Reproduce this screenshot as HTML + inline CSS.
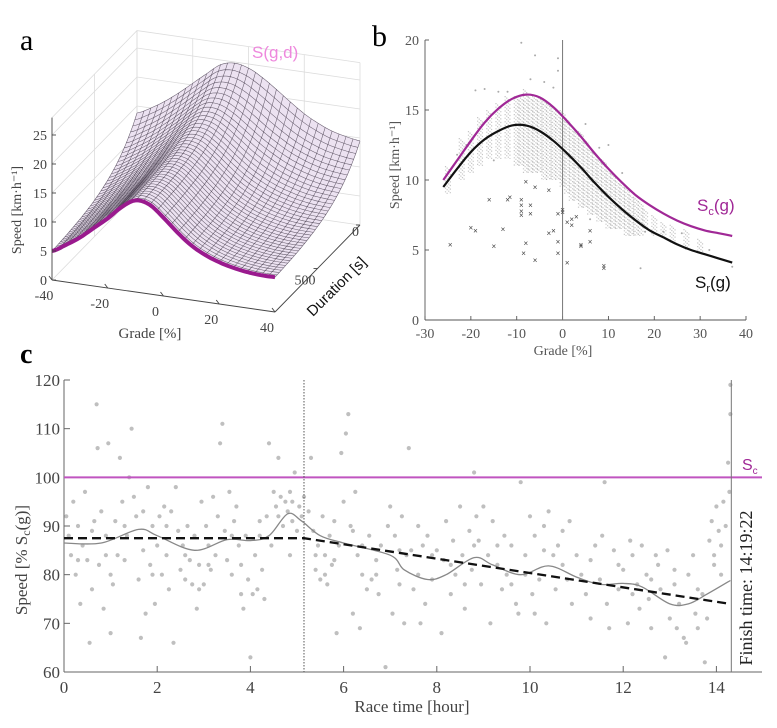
<!DOCTYPE html>
<html><head><meta charset="utf-8">
<style>
html,body{margin:0;padding:0;background:#fff;}
svg{display:block;font-family:"Liberation Serif",serif;}
.sans{font-family:"Liberation Sans",sans-serif;}
</style></head>
<body>
<svg id="fig" width="777" height="728" viewBox="0 0 777 728">
  <g id="pa"></g>
  <g id="pb"></g>
  <g id="pc"></g>
  <text x="20" y="50" font-size="30">a</text>
  <text x="372" y="46" font-size="30">b</text>
  <text x="20" y="363" font-size="28" font-weight="bold">c</text>
</svg>
<script>
// ---------- Panel A data ----------
const aGrades = [-40,-35,-30,-25,-20,-15,-10,-5,0,5,10,15,20,25,30,35,40];
const aFrontSpeed = [5,6.4,8,10,12,14.3,15.8,15.4,13.5,11.3,9.4,8.1,7.2,6.6,6.2,6.0,6.0];
const aBackSpeed = [13.8,15,16.5,18.3,20.3,22.3,24.2,24.8,24.3,23,21.3,19.5,17.8,16.5,15.5,14.9,14.5];
const aSpeedTicks = [0,5,10,15,20,25];
const aGradeTicks = [-40,-20,0,20,40];
const aDurTicks = [0,500];
// ---------- Panel B data ----------
const bScG = [-26,-23,-20,-17,-14,-11,-8,-5,-2,1,4,7,10,13,16,19,22,25,28,31,34,37];
const bScV = [10,11.4,12.8,14.1,15.1,15.8,16.1,15.9,15.2,14.2,13.1,11.9,10.8,9.8,8.9,8.2,7.6,7.1,6.7,6.4,6.2,6.0];
const bSrG = [-26,-23,-20,-17,-14,-11,-8,-5,-2,1,4,7,10,13,16,19,22,25,28,31,34,37];
const bSrV = [9.5,10.8,12,12.9,13.5,13.9,13.9,13.5,12.8,11.9,10.9,9.8,8.8,7.9,7.1,6.4,5.9,5.4,5.0,4.7,4.4,4.1];
const bColG = [-25,-22,-20,-18,-16,-14,-12,-10,-9,-8,-7,-6,-5,-4,-3,-2,-1,0,1,2,3,4,5,6,7,8,9,10,11,12,13,14,15,16,17,18,20,22,24,27,30];
const bColLo = [9,10,10.5,11,11.5,11.5,11.5,11,11,10.5,10.5,10.5,10.5,10,10,10,10,9.5,9,8.5,8.5,8,8,7.5,7.5,7,7,6.5,6.5,6.5,6.5,6,6,6,6,6.5,6,6,5.5,5,4.8];
const bColHi = [11,13,13.5,14.5,15,15.5,16,16,16,16.5,16,16,16,15.8,15.5,15.3,15,15,14.5,14,13.5,13.5,13,12.5,12,11.5,11.5,11,10.5,10,10,9.5,9,8.8,8.5,8,7.5,7,6.8,6.5,5.8];
const bDotG = [-9,-6,-1,-1,-7,-19,-17,-14,5,10,18,26,32,37,17,22,-12,-15,-4,3,8,13,-21,-23,-2,6];
const bDotV = [19.8,18.9,18.7,17.8,17.2,16.4,16.5,16.3,14,12.5,6.3,6.2,5,3.8,3.7,6.3,16.3,11.4,17,13.5,12.3,10.5,12.5,11.8,16.6,7.2];
const bXG = [-24.5,-20,-19,-16,-15,-13,-12,-11.5,-9,-9,-9,-9,-8.5,-8,-8,-7,-7,-6,-6,-3,-3,-2,-1,-1,-1,0,0,1,1,2,2,3,4,4,6,6,9,9];
const bXV = [5.4,6.6,6.4,8.6,5.3,6.5,8.6,8.8,8.6,8.2,7.8,7.5,4.8,5.5,9.9,8.2,7.6,9.5,4.3,9.3,6.2,6.4,7.6,5.6,4.8,7.7,7.9,4.1,7,6.8,7.2,7.4,5.4,5.3,6.4,5.6,3.9,3.7];
const bXTicks = [-30,-20,-10,0,10,20,30,40];
const bYTicks = [0,5,10,15,20];
// ---------- Panel C data ----------
const cSmoothT = [0,0.8,1.6,2.0,2.8,3.5,4.0,4.4,4.8,5.1,5.5,6.0,7.0,7.3,7.8,8.2,8.8,9.2,9.8,10.4,11.0,11.5,12.0,12.4,13.0,13.4,13.8,14.3];
const cSmoothV = [86.5,86.5,89.3,88,85,87.2,87,88,92.5,91,88,86.5,84,81,79,80,83.5,82,80,81.8,79.5,78,78.2,77.5,74,74,76,78.8];
const cTrendT = [0,5.15,14.3];
const cTrendV = [87.5,87.5,74];
const cPts = [[0.05,92],[0.1,88],[0.15,84],[0.2,95],[0.25,80],[0.3,90],[0.35,74],[0.4,86],[0.45,97],[0.5,83],[0.55,66],[0.6,77],[0.65,91],[0.7,115],[0.72,106],[0.75,82],[0.8,93],[0.85,73],[0.9,88],[0.95,107],[1.0,68],[1.0,80],
[1.05,78],[1.1,91],[1.15,84],[1.2,104],[1.25,95],[1.3,83],[1.35,88],[1.4,100],[1.45,110],[1.5,96],[1.55,92],[1.6,79],[1.65,67],[1.7,85],[1.75,72],[1.8,98],[1.85,82],[1.9,90],[1.95,74],[2.0,86],
[2.05,92],[2.1,80],[2.15,94],[2.2,84],[2.25,77],[2.3,93],[2.35,66],[2.4,98],[2.45,89],[2.5,81],[2.55,86],[2.6,79],[2.65,90],[2.7,83],[2.75,78],[2.8,88],[2.85,73],[2.9,82],[2.95,95],[3.0,78],
[3.05,90],[3.1,86],[3.15,81],[3.2,96],[3.25,84],[3.3,92],[3.35,107],[3.4,111],[3.45,89],[3.5,83],[3.55,97],[3.6,80],[3.65,91],[3.7,94],[3.75,86],[3.8,76],[3.85,73],[3.9,88],[3.95,79],[4.0,63],
[4.05,76],[4.1,84],[4.15,77],[4.2,88],[4.25,81],[4.3,75],[4.35,92],[4.4,107],[4.45,86],[4.5,97],[4.55,94],[4.6,104],[4.65,96],[4.7,90],[4.75,95],[4.8,93],[4.85,97],[4.9,91],[4.95,101],[5.0,89],[5.05,94],[5.1,92],[5.15,96],[4.85,84],
[5.25,93],[5.3,104],[5.35,89],[5.4,81],[5.45,86],[5.5,79],[5.55,92],[5.6,84],[5.65,78],[5.7,88],[5.75,82],[5.8,91],[5.85,68],[5.9,86],[5.95,105],[6.0,95],[6.05,109],[6.1,113],[6.15,90],[6.2,72],[6.25,97],[6.3,84],[6.35,69],[6.4,80],[6.5,77],
[6.55,88],[6.6,79],[6.7,83],[6.75,76],[6.8,86],[6.9,61],[6.95,90],[7.0,94],[7.05,72],[7.1,88],[7.15,81],[7.2,78],[7.25,92],[7.3,70],[7.35,84],[7.4,106],[7.45,85],[7.5,77],[7.6,80],[7.65,70],[7.7,86],[7.75,74],[7.8,88],[7.9,79],
[8.0,85],[8.1,68],[8.15,83],[8.2,91],[8.3,76],[8.35,87],[8.4,80],[8.5,94],[8.55,84],[8.6,73],[8.7,89],[8.75,81],[8.8,101],[8.85,92],[8.9,87],[8.95,78],[9.0,94],[9.1,84],[9.15,70],[9.2,91],[9.3,82],[9.4,77],[9.45,88],
[9.5,80],[9.6,86],[9.7,74],[9.75,72],[9.8,99],[9.9,84],[10.0,92],[10.05,76],[10.1,88],[10.2,79],[10.3,90],[10.35,70],[10.4,93],[10.5,84],[10.55,77],[10.6,86],[10.7,89],[10.8,79],[10.85,91],[10.9,74],[11.0,84],
[11.1,80],[11.2,76],[11.3,71],[11.4,86],[11.5,79],[11.55,88],[11.6,99],[11.65,74],[11.7,69],[11.8,85],[11.9,77],[12.0,81],[12.1,70],[12.15,87],[12.2,84],[12.3,78],[12.35,73],[12.4,86],[12.5,80],
[12.55,75],[12.6,69],[12.7,84],[12.75,82],[12.8,77],[12.9,63],[12.95,85],[13.0,71],[13.1,78],[13.15,69],[13.2,74],[13.3,67],[13.35,66],[13.4,80],[13.5,84],[13.55,72],[13.6,69],[13.7,76],[13.75,62],[13.8,71],[13.85,87],[13.9,91],[13.95,82],[14.0,94],[14.05,89],[14.1,86],[14.15,95],[14.2,90],[14.25,103],[14.3,113],[14.3,119],[14.28,97],[13.95,84],
[0.3,83],[0.6,89],[1.3,90],[1.7,93],[2.2,90],[2.6,84],[3.1,82],[3.6,88],[4.2,91],[4.6,92],[4.9,95],[5.4,84],[5.8,83],[6.2,89],[6.7,80],[7.2,85],[7.6,90],[8.3,82],[8.8,86],[9.3,86],[9.9,80],[10.3,85],[10.7,82],[11.3,83],[11.9,82],[12.6,79],[13.1,81],[13.6,77],[14.1,80],[12.2,76],[10.1,72],[8.6,78],[6.4,86],[3.8,82],[1.9,80],[0.9,84],[2.9,77],[5.6,80],[7.9,84],[9.6,78]];
const cXTicks = [0,2,4,6,8,10,12,14];
const cYTicks = [60,70,80,90,100,110,120];
const cSplitHour = 5.15;
const cFinishHour = 14.32;
const cRefPct = 100;

const NS = "http://www.w3.org/2000/svg";
function mk(parent, tag, attrs, txt){
  const e = document.createElementNS(NS, tag);
  for (const k in attrs) e.setAttribute(k, attrs[k]);
  if (txt !== undefined) e.textContent = txt;
  parent.appendChild(e);
  return e;
}
function crInterp(xs, ys, x){
  let i = 0;
  while (i < xs.length - 2 && x > xs[i+1]) i++;
  const x0 = xs[i], x1 = xs[i+1];
  const t = (x - x0) / (x1 - x0);
  const p0 = ys[Math.max(0,i-1)], p1 = ys[i], p2 = ys[i+1], p3 = ys[Math.min(ys.length-1,i+2)];
  const t2 = t*t, t3 = t2*t;
  return 0.5*((2*p1)+(-p0+p2)*t+(2*p0-5*p1+4*p2-p3)*t2+(-p0+3*p1-3*p2+p3)*t3);
}
function smoothPath(pts){
  let d = "M" + pts[0][0].toFixed(1) + "," + pts[0][1].toFixed(1);
  for (let i = 0; i < pts.length - 1; i++){
    const p0 = pts[Math.max(0,i-1)], p1 = pts[i], p2 = pts[i+1], p3 = pts[Math.min(pts.length-1,i+2)];
    const c1 = [p1[0]+(p2[0]-p0[0])/6, p1[1]+(p2[1]-p0[1])/6];
    const c2 = [p2[0]-(p3[0]-p1[0])/6, p2[1]-(p3[1]-p1[1])/6];
    d += "C"+c1[0].toFixed(1)+","+c1[1].toFixed(1)+" "+c2[0].toFixed(1)+","+c2[1].toFixed(1)+" "+p2[0].toFixed(1)+","+p2[1].toFixed(1);
  }
  return d;
}

// ================= PANEL A =================
(function(){
  const g = document.getElementById("pa");
  const DMAX = 1000, TAU = 280;
  function P(gr, d, s){
    const u = (gr+40)/80, w = 1 - d/DMAX;
    return [52 + u*223 + w*85, 280 + u*32 - w*87 - s*5.8];
  }
  function mixF(d){ return (Math.exp(-d/TAU) - Math.exp(-DMAX/TAU)) / (1 - Math.exp(-DMAX/TAU)); }
  function S(gr, d){
    const f = crInterp(aGrades, aFrontSpeed, gr), b = crInterp(aGrades, aBackSpeed, gr);
    return f + (b - f) * mixF(d);
  }
  const box = mk(g, "g", {stroke:"#dcdcdc","stroke-width":0.8,fill:"none"});
  
  
  const SMAX = 28;
  aGradeTicks.forEach(gr => { const a=P(gr,0,0), b=P(gr,0,SMAX); mk(box,"line",{x1:a[0],y1:a[1],x2:b[0],y2:b[1]}); });
  [0,500,1000].forEach(d => { const a=P(-40,d,0), b=P(-40,d,SMAX); mk(box,"line",{x1:a[0],y1:a[1],x2:b[0],y2:b[1]}); });
  aSpeedTicks.concat([SMAX]).forEach(s => {
    const a=P(-40,DMAX,s), b=P(-40,0,s), c=P(40,0,s);
    mk(box,"polyline",{points:a.join(",")+" "+b.join(",")+" "+c.join(",")});
  });
  const gStep = 2.5, dVals = [];
  for (let d = 0; d <= DMAX; d += 25) dVals.push(d);
  const gVals = [];
  for (let x = -40; x <= 40.001; x += gStep) gVals.push(x);
  const fill = mk(g, "g", {fill:"#ece2f1", stroke:"#ece2f1", "stroke-width":0.6});
  
  
  for (let i = 0; i < dVals.length-1; i++){
    for (let j = 0; j < gVals.length-1; j++){
      const p = [P(gVals[j],dVals[i],S(gVals[j],dVals[i])), P(gVals[j+1],dVals[i],S(gVals[j+1],dVals[i])),
                 P(gVals[j+1],dVals[i+1],S(gVals[j+1],dVals[i+1])), P(gVals[j],dVals[i+1],S(gVals[j],dVals[i+1]))];
      mk(fill,"polygon",{points:p.map(q=>q[0].toFixed(1)+","+q[1].toFixed(1)).join(" ")});
    }
  }
  const mesh = mk(g, "g", {stroke:"#3a3040","stroke-width":0.55,fill:"none","stroke-opacity":0.75});
  
  
  dVals.forEach(d => {
    const pts = [];
    for (let x = -40; x <= 40.001; x += 1) pts.push(P(x,d,S(x,d)));
    mk(mesh,"polyline",{points:pts.map(q=>q[0].toFixed(1)+","+q[1].toFixed(1)).join(" ")});
  });
  gVals.forEach(x => {
    const pts = dVals.map(d => P(x,d,S(x,d)));
    mk(mesh,"polyline",{points:pts.map(q=>q[0].toFixed(1)+","+q[1].toFixed(1)).join(" ")});
  });
  const fp = [];
  for (let x = -40; x <= 40.001; x += 1) fp.push(P(x,DMAX,crInterp(aGrades,aFrontSpeed,x)));
  const fc = mk(g,"polyline",{points:fp.map(q=>q[0].toFixed(1)+","+q[1].toFixed(1)).join(" "),stroke:"#9a1a8e","stroke-width":4,fill:"none"});
  
  
  const ax = mk(g,"g",{stroke:"#444","stroke-width":0.9,fill:"none"});
  
  
  const z0 = P(-40,DMAX,0), z1 = P(-40,DMAX,SMAX), g1 = P(40,DMAX,0), d0 = P(40,0,0);
  mk(ax,"line",{x1:z0[0],y1:z0[1],x2:z1[0],y2:z1[1]});
  mk(ax,"line",{x1:z0[0],y1:z0[1],x2:g1[0],y2:g1[1]});
  mk(ax,"line",{x1:g1[0],y1:g1[1],x2:d0[0],y2:d0[1]});
  aSpeedTicks.forEach(s => {
    const p = P(-40,DMAX,s);
    mk(ax,"line",{x1:p[0],y1:p[1],x2:p[0]+4,y2:p[1]});
    const t = mk(g,"text",{x:p[0]-5,y:p[1]+5,"font-size":14,"text-anchor":"end",fill:"#444"},String(s));
    
    
  });
  aGradeTicks.forEach((gr,i) => {
    const p = P(gr,DMAX,0);
    mk(ax,"line",{x1:p[0],y1:p[1],x2:p[0]-3,y2:p[1]-4});
    const t = mk(g,"text",{x:p[0]-8,y:p[1]+20,"font-size":14,"text-anchor":"middle",fill:"#444"},String(gr));
    
    
  });
  aDurTicks.forEach(d => {
    const p = P(40,d,0);
    mk(ax,"line",{x1:p[0],y1:p[1],x2:p[0]-4,y2:p[1]});
    const t = mk(g,"text",{x:p[0]-8+(d===0?0:-15),y:p[1]+14+(d===0?-3:2),"font-size":14,"text-anchor":"start",fill:"#444"},String(d));
    
    
  });
  let t;
  t = mk(g,"text",{x:150,y:338,"font-size":15,"text-anchor":"middle",fill:"#444"},"Grade [%]");
   
  t = mk(g,"text",{x:0,y:0,"font-size":14,"text-anchor":"middle",fill:"#444",transform:"translate(21,210) rotate(-90)"},"Speed [km·h⁻¹]");
   
  t = mk(g,"text",{x:0,y:0,"font-size":15,"text-anchor":"middle",fill:"#111",class:"sans",transform:"translate(340,290) rotate(-45)"},"Duration [s]");
   
  t = mk(g,"text",{x:252,y:58,"font-size":17,fill:"#ee88dd",class:"sans"},"S(g,d)");
   
})();

// ================= PANEL B =================
(function(){
  const g = document.getElementById("pb");
  const X0 = 425, X1 = 746, Y0 = 320, Y1 = 40;
  const xs = v => X0 + (v + 30) / 70 * (X1 - X0);
  const ys = v => Y0 - v / 20 * (Y0 - Y1);
  const ax = mk(g,"g",{stroke:"#555","stroke-width":0.9,fill:"none"});
   
  mk(ax,"line",{x1:X0,y1:Y1,x2:X0,y2:Y0});
  mk(ax,"line",{x1:X0,y1:Y0,x2:X1,y2:Y0});
  bYTicks.forEach(v => {
    mk(ax,"line",{x1:X0,y1:ys(v),x2:X0+4,y2:ys(v)});
    const t = mk(g,"text",{x:X0-6,y:ys(v)+5,"font-size":14,"text-anchor":"end",fill:"#555"},String(v));
     
  });
  bXTicks.forEach(v => {
    mk(ax,"line",{x1:xs(v),y1:Y0,x2:xs(v),y2:Y0-4});
    const t = mk(g,"text",{x:xs(v),y:Y0+18,"font-size":14,"text-anchor":"middle",fill:"#555"},String(v));
     
  });
  const zl = mk(g,"line",{x1:xs(0),y1:Y1,x2:xs(0),y2:Y0,stroke:"#777","stroke-width":1});
   
  const cols = mk(g,"g",{stroke:"#a0a0a0","stroke-width":1.2,"stroke-dasharray":"1.2 2.4","stroke-opacity":0.6});
   
  bColG.forEach((v,i) => {
    [-2.4,-0.8,0.8,2.4].forEach((o,k) => {
      mk(cols,"line",{x1:xs(v)+o,y1:ys(bColHi[i])+k*1.5,x2:xs(v)+o,y2:ys(bColLo[i])});
    });
  });
  bDotG.forEach((v,i) => {
    const c = mk(g,"circle",{cx:xs(v),cy:ys(bDotV[i]),r:1,fill:"#aaa"});
     
  });
  bXG.forEach((v,i) => {
    const t = mk(g,"text",{x:xs(v),y:ys(bXV[i])+3,"font-size":8,"text-anchor":"middle",fill:"#444",class:"sans"},"×");
     
  });
  const sc = mk(g,"path",{d:smoothPath(bScG.map((v,i)=>[xs(v),ys(bScV[i])])),stroke:"#a02896","stroke-width":2.2,fill:"none"});
   
  const sr = mk(g,"path",{d:smoothPath(bSrG.map((v,i)=>[xs(v),ys(bSrV[i])])),stroke:"#111","stroke-width":2.2,fill:"none"});
   
  let t;
  t = mk(g,"text",{x:697,y:211,"font-size":17,fill:"#a02896",class:"sans"});
  t.innerHTML = 'S<tspan font-size="11" dy="4">c</tspan><tspan dy="-4">(g)</tspan>';
   
  t = mk(g,"text",{x:695,y:288,"font-size":17,fill:"#111",class:"sans"});
  t.innerHTML = 'S<tspan font-size="11" dy="4">r</tspan><tspan dy="-4">(g)</tspan>';
   
  t = mk(g,"text",{x:563,y:355,"font-size":14,"text-anchor":"middle",fill:"#555"},"Grade [%]");
   
  t = mk(g,"text",{x:0,y:0,"font-size":14,"text-anchor":"middle",fill:"#555",transform:"translate(399,165) rotate(-90)"},"Speed [km·h⁻¹]");
   
})();

// ================= PANEL C =================
(function(){
  const g = document.getElementById("pc");
  const X0 = 64, XR = 762, Y0 = 672, Y1 = 380;
  const xs = v => X0 + v * 46.6;
  const ys = v => Y0 - (v - 60) / 60 * (Y0 - Y1);
  const ax = mk(g,"g",{stroke:"#666","stroke-width":1,fill:"none"});
   
  mk(ax,"line",{x1:X0,y1:Y1,x2:X0,y2:Y0});
  mk(ax,"line",{x1:X0,y1:Y0,x2:XR,y2:Y0});
  cYTicks.forEach(v => {
    mk(ax,"line",{x1:X0,y1:ys(v),x2:X0+6,y2:ys(v)});
    const t = mk(g,"text",{x:X0-4,y:ys(v)+6,"font-size":17,"text-anchor":"end",fill:"#444"},String(v));
     
  });
  cXTicks.forEach(v => {
    mk(ax,"line",{x1:xs(v),y1:Y0,x2:xs(v),y2:Y0-6});
    const t = mk(g,"text",{x:xs(v),y:Y0+21,"font-size":17,"text-anchor":"middle",fill:"#444"},String(v));
     
  });
  const dots = mk(g,"g",{fill:"#8a8a8a","fill-opacity":0.55});
   
  cPts.forEach(p => {
    const c = mk(dots,"circle",{cx:xs(p[0]).toFixed(1),cy:ys(p[1]).toFixed(1),r:2.1});
     
  });
  let e;
  e = mk(g,"line",{x1:X0,y1:ys(cRefPct),x2:XR,y2:ys(cRefPct),stroke:"#c055c0","stroke-width":2});
   
  e = mk(g,"line",{x1:xs(cSplitHour),y1:Y1,x2:xs(cSplitHour),y2:Y0,stroke:"#555","stroke-width":1,"stroke-dasharray":"1.5 1.5"});
   
  e = mk(g,"line",{x1:xs(cFinishHour),y1:Y1,x2:xs(cFinishHour),y2:Y0,stroke:"#777","stroke-width":1});
   
  e = mk(g,"path",{d:smoothPath(cSmoothT.map((v,i)=>[xs(v),ys(cSmoothV[i])])),stroke:"#888","stroke-width":1.3,fill:"none"});
   
  e = mk(g,"polyline",{points:cTrendT.map((v,i)=>xs(v).toFixed(1)+","+ys(cTrendV[i]).toFixed(1)).join(" "),stroke:"#111","stroke-width":2.3,fill:"none","stroke-dasharray":"9 5"});
   
  let t;
  t = mk(g,"text",{x:742,y:470,"font-size":16,fill:"#a02896",class:"sans"});
  t.innerHTML = 'S<tspan font-size="10" dy="4">c</tspan>';
   
  t = mk(g,"text",{x:0,y:0,"font-size":18,"text-anchor":"middle",fill:"#222",transform:"translate(752,588) rotate(-90)"},"Finish time:  14:19:22");
   
  t = mk(g,"text",{x:412,y:712,"font-size":17,"text-anchor":"middle",fill:"#444"},"Race time [hour]");
   
  t = mk(g,"text",{x:0,y:0,"font-size":17,"text-anchor":"middle",fill:"#444",transform:"translate(27,560) rotate(-90)"});
  t.innerHTML = 'Speed [% S<tspan font-size="12" dy="3">c</tspan><tspan dy="-3">(g)]</tspan>';
   
})();
</script>
</body></html>
